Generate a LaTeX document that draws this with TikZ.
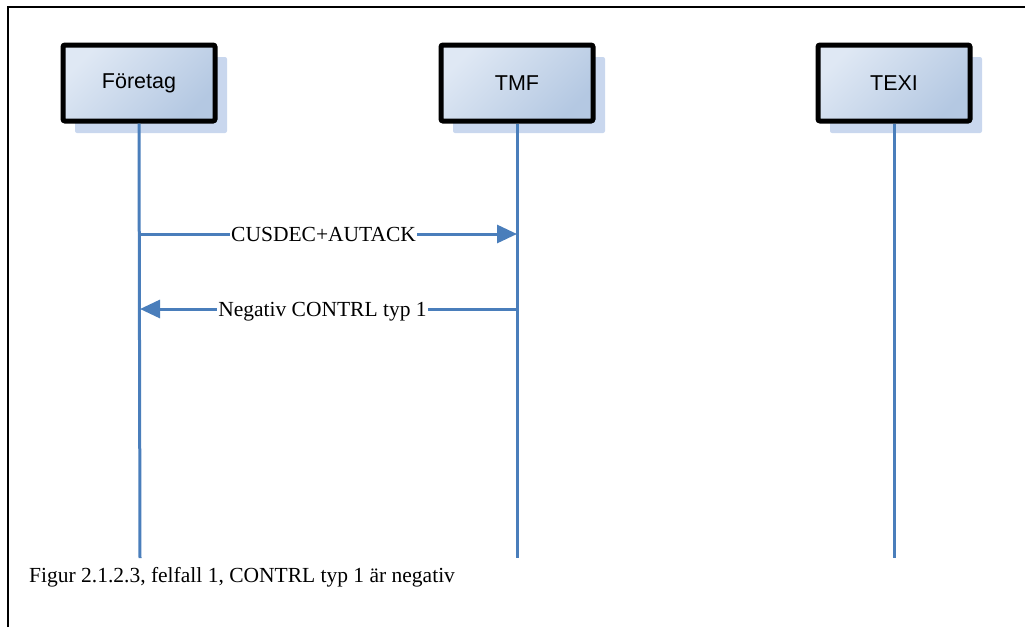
\documentclass[tikz,border=0pt]{standalone}
\usepackage{fontspec}
\setmainfont{Liberation Serif}
\newfontfamily\boxfont{Liberation Sans}
\usetikzlibrary{arrows.meta,shadows}
\definecolor{boxL}{HTML}{DFE8F4}
\definecolor{boxR}{HTML}{B4C8E2}
\definecolor{shadowc}{HTML}{C9D7EE}
\definecolor{lifec}{HTML}{4A7EBB}
\tikzset{
  actor/.style={draw=black, line width=5pt, rounded corners=2pt,
    top color=boxL, bottom color=boxR, shading angle=45,
    minimum width=152pt, minimum height=76pt,
    font=\boxfont\fontsize{21.5}{25}\selectfont,
    general shadow={fill=shadowc, shadow xshift=12pt, shadow yshift=-12pt}},
  lifeline/.style={draw=lifec, line width=3pt},
  msg/.style={draw=lifec, line width=3pt, -{Triangle[length=20pt,width=18pt]}},
  msglabel/.style={fill=white, inner xsep=1pt, inner ysep=1pt, anchor=base, yshift=-7pt, font=\fontsize{21.5}{25}\selectfont},
  frameline/.style={draw=black, line width=2pt}
}
\begin{document}
\begin{tikzpicture}[x=1pt,y=-1pt]
\useasboundingbox (0,0) rectangle (1025,627);
\coordinate (fbl) at (8,627);
\coordinate (ftl) at (8,7);
\coordinate (ftr) at (1025,7);
\draw[frameline] (fbl) -- (ftl) -- (ftr);
\node[actor] (f) at (139,83) {Företag};
\node[actor] (t) at (517,83) {TMF};
\node[actor] (x) at (894,83) {TEXI};
\coordinate (fe) at (140,558);
\coordinate (te) at (517,558);
\coordinate (xe) at (894,558);
\draw[lifeline] (f.south) -- (fe);
\draw[lifeline] (t.south) -- (te);
\draw[lifeline] (x.south) -- (xe);
\coordinate (f1) at (140,234);
\coordinate (t1) at (517,234);
\coordinate (f2) at (140,309);
\coordinate (t2) at (517,309);
\draw[msg] (f1) -- node[msglabel, pos=0.487] {CUSDEC+AUTACK} (t1);
\draw[msg] (t2) -- node[msglabel, pos=0.516] {Negativ CONTRL typ 1} (f2);
\node[anchor=base west, inner sep=0pt, font=\fontsize{21.5}{25}\selectfont] (cap) at (29,582.5) {Figur 2.1.2.3, felfall 1, CONTRL typ 1 är negativ};
\end{tikzpicture}
\end{document}
